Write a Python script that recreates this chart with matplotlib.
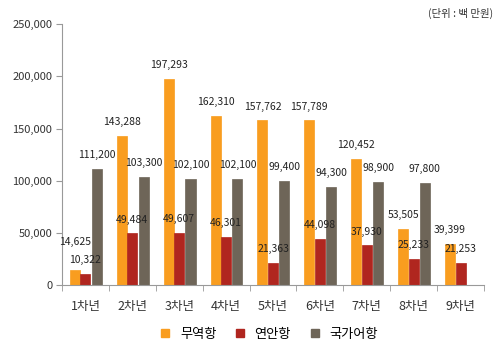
import matplotlib.pyplot as plt
import numpy as np
from matplotlib.lines import Line2D

plt.rcParams['font.family'] = ['Noto Sans CJK KR', 'DejaVu Sans']

cats = ['1차년', '2차년', '3차년', '4차년', '5차년', '6차년', '7차년', '8차년', '9차년']
trade = [14625, 143288, 197293, 162310, 157762, 157789, 120452, 53505, 39399]
coast = [10322, 49484, 49607, 46301, 21363, 44098, 37930, 25233, 21253]
fish = [111200, 103300, 102100, 102100, 99400, 94300, 98900, 97800, None]

names = ['무역항', '연안항', '국가어항']
colors = ['#F99D1F', '#B0261F', '#6E6558']

fig = plt.figure(figsize=(5, 3.55), dpi=100)
ax = fig.add_axes([0.124, 0.197, 0.844, 0.735])

x = np.arange(len(cats))
w = 0.215
offs = [-0.225, 0.0, 0.24]
for vals, off, c in zip([trade, coast, fish], offs, colors):
    xs = [xi + off for xi, v in zip(x, vals) if v is not None]
    vs = [v for v in vals if v is not None]
    ax.bar(xs, vs, width=w, color=c, edgecolor=c, linewidth=0.5)
    for xx, v in zip(xs, vs):
        dy = 10
        if v == 14625:
            dy = 20
        ax.annotate(f'{v:,}', (xx, v), xytext=(0, dy), textcoords='offset points',
                    ha='center', va='center', fontsize=7.5, color='#222222')

ax.set_xlim(-0.5, len(cats) - 0.5)
ax.set_ylim(0, 250000)
ax.set_yticks(range(0, 250001, 50000))
ax.set_yticklabels([f'{t:,}' for t in range(0, 250001, 50000)], fontsize=8, color='#333333')
ax.set_xticks(x)
ax.set_xticklabels(cats, fontsize=9, color='#333333')
ax.set_xticks(np.arange(-0.5, len(cats), 1), minor=True)
ax.tick_params(axis='x', which='major', length=0, pad=11)
ax.tick_params(axis='x', which='minor', length=4, color='#999999')
ax.tick_params(axis='y', length=4, color='#999999', pad=3)
for s in ['top', 'right']:
    ax.spines[s].set_visible(False)
for s in ['left', 'bottom']:
    ax.spines[s].set_color('#999999')

handles = [Line2D([], [], marker='s', linestyle='none', color=c, markersize=5.5) for c in colors]
fig.legend(handles, names, loc='center', bbox_to_anchor=(0.53, 0.058), ncol=3,
           frameon=False, fontsize=9.5, handletextpad=0.1, columnspacing=0.8)

fig.text(0.986, 0.962, '(단위 : 백 만원)', ha='right', va='center', fontsize=7.5, color='#333333')

fig.savefig('out.png', dpi=100)
